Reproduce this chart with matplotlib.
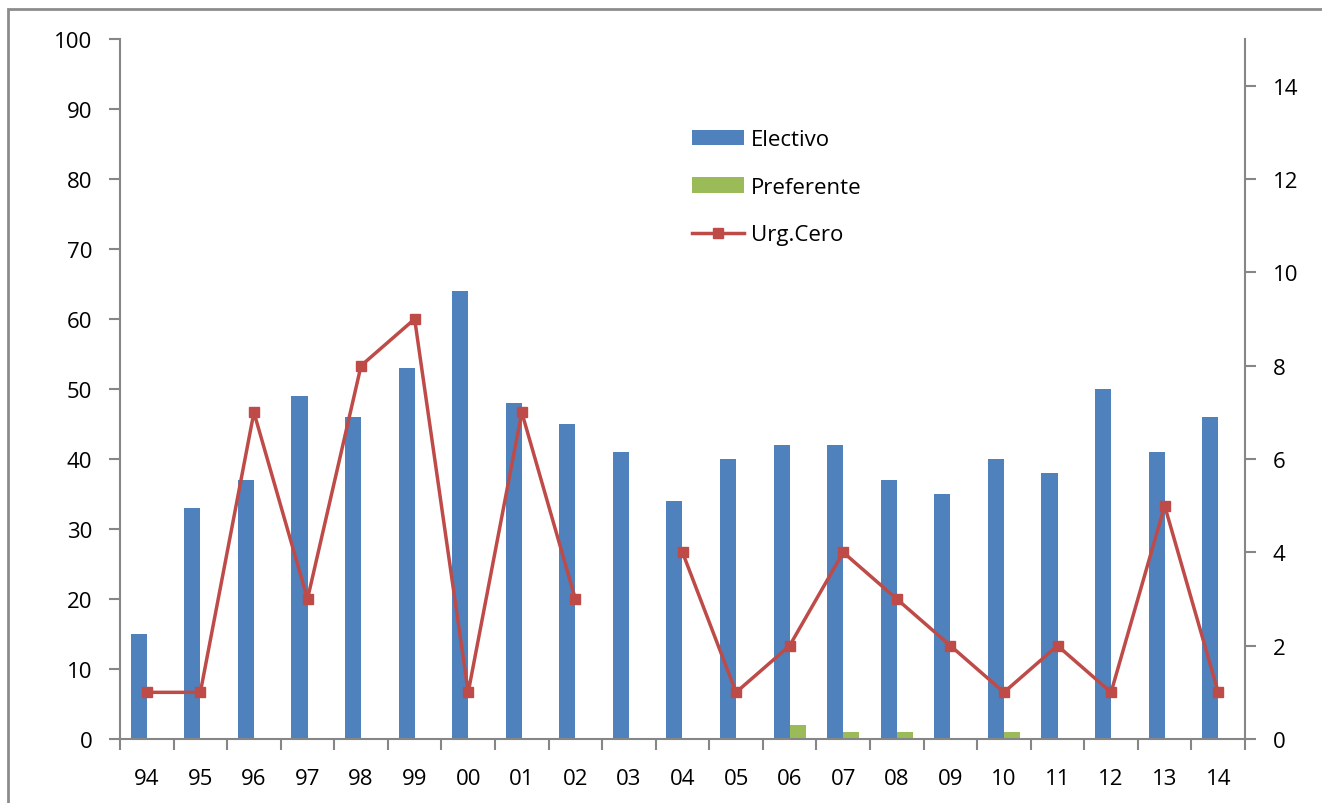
import numpy as np
import matplotlib.pyplot as plt
from matplotlib.patches import Rectangle

plt.rcParams['font.family'] = ['Open Sans', 'DejaVu Sans']

years = ['94', '95', '96', '97', '98', '99', '00', '01', '02', '03', '04',
         '05', '06', '07', '08', '09', '10', '11', '12', '13', '14']
electivo = [15, 33, 37, 49, 46, 53, 64, 48, 45, 41, 34, 40, 42, 42, 37, 35, 40, 38, 50, 41, 46]
preferente = [0, 0, 0, 0, 0, 0, 0, 0, 0, 0, 0, 0, 2, 1, 1, 0, 1, 0, 0, 0, 0]
urg_cero = [1, 1, 7, 3, 8, 9, 1, 7, 3, np.nan, 4, 1, 2, 4, 3, 2, 1, 2, 1, 5, 1]

blue = '#4F81BD'
green = '#9BBB59'
red = '#BE4B48'
gray = '#868686'

fig = plt.figure(figsize=(13.22, 8.04), dpi=100)
ax1 = fig.add_axes([120/1322, 1 - 740/804, (1245 - 120)/1322, 700/804])
ax2 = ax1.twinx()

x = np.arange(len(years))
w = 0.3
b1 = ax1.bar(x - w/2, electivo, width=w, color=blue, label='Electivo')
b2 = ax1.bar(x + w/2, preferente, width=w, color=green, label='Preferente')
l1, = ax2.plot(x, urg_cero, color=red, lw=2.5, marker='s', markersize=7, label='Urg.Cero')

ax1.set_xlim(-0.5, len(years) - 0.5)
ax1.set_ylim(0, 100)
ax2.set_ylim(0, 15)
ax1.set_yticks(np.arange(0, 101, 10))
ax2.set_yticks(np.arange(0, 15, 2))

ax1.set_xticks(x)
ax1.set_xticklabels(years)
ax1.set_xticks(np.arange(-0.5, len(years), 1), minor=True)
ax1.tick_params(axis='x', which='major', length=0, pad=21, labelsize=16)
ax1.tick_params(axis='x', which='minor', length=8, width=1.5, color=gray, direction='out')
ax1.tick_params(axis='y', length=8, width=1.5, color=gray, labelsize=16, pad=12)
ax2.tick_params(axis='y', length=8, width=1.5, color=gray, labelsize=16, pad=12)

for ax in (ax1, ax2):
    ax.spines['top'].set_visible(False)
    for s in ('left', 'right', 'bottom'):
        ax.spines[s].set_color(gray)
        ax.spines[s].set_linewidth(1.5)
ax1.spines['right'].set_visible(False)
ax2.spines['left'].set_visible(False)
ax2.spines['bottom'].set_visible(False)

ax1.legend([b1, b2, l1], ['Electivo', 'Preferente', 'Urg.Cero'],
           loc='upper left', bbox_to_anchor=(672/1322, 1 - 110/804),
           bbox_transform=fig.transFigure, frameon=False, fontsize=16,
           handlelength=2.35, handleheight=0.68, labelspacing=1.2, handletextpad=0.3)

fig.patches.append(Rectangle((8/1322, -0.1), 1.2, 1.1 - 10/804, transform=fig.transFigure,
                             fill=False, edgecolor='#8C8C8C', lw=2))

fig.savefig('out.png', dpi=100)
